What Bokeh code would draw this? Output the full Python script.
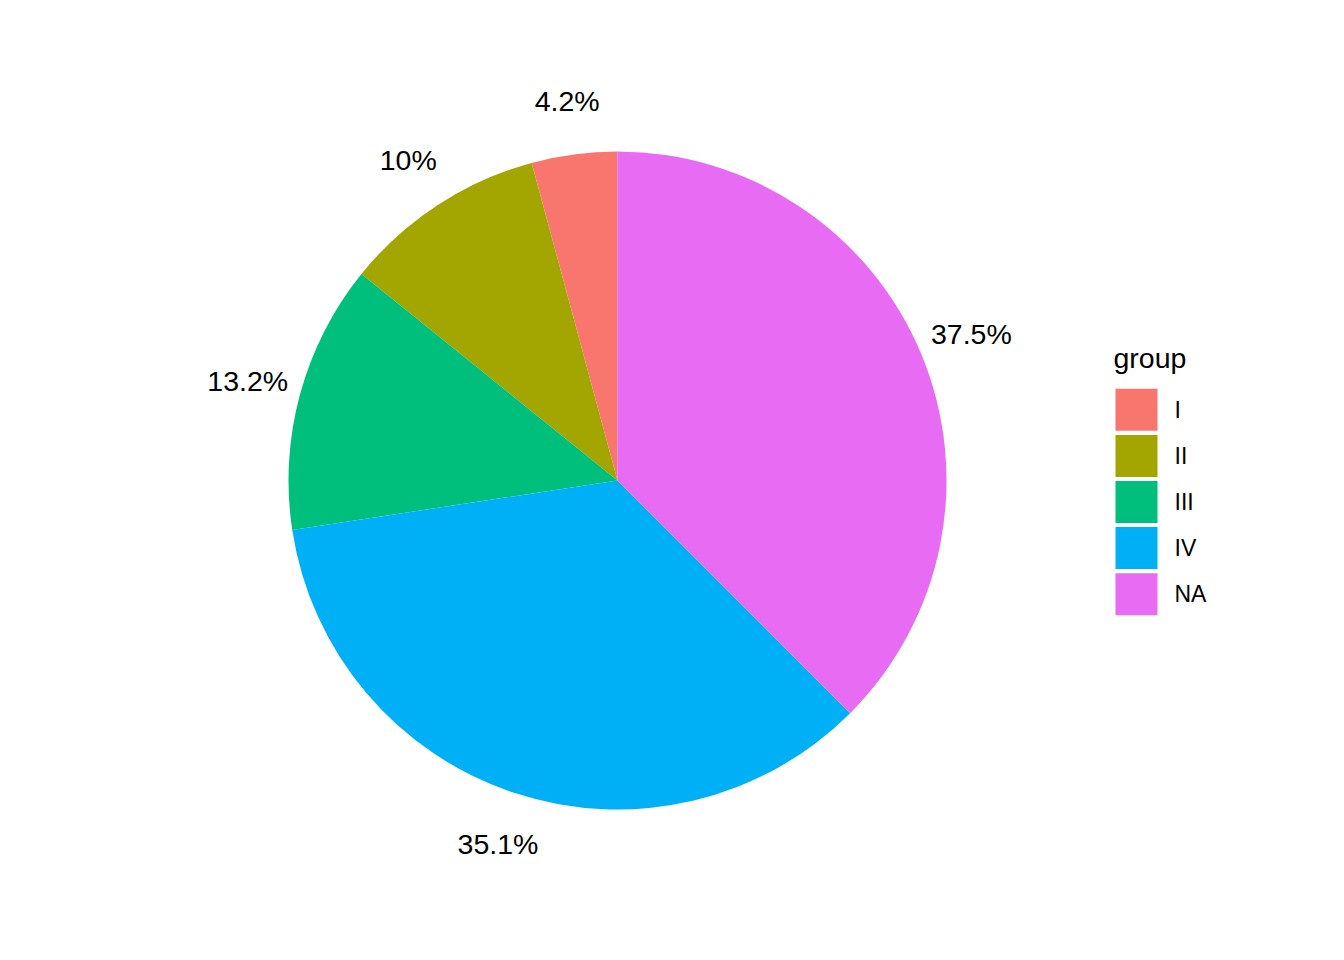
import math
from bokeh.plotting import figure
from bokeh.models import Range1d, ColumnDataSource
from bokeh.core.properties import value
from bokeh.embed import file_html
from bokeh.resources import INLINE

# ---- data ----
groups = ["I", "II", "III", "IV", "NA"]
percents = [4.2, 10.0, 13.2, 35.1, 37.5]
labels = ["4.2%", "10%", "13.2%", "35.1%", "37.5%"]
colors = ["#F8766D", "#A3A500", "#00BF7D", "#00B0F6", "#E76BF3"]
legend_title = "group"

FONT = "Liberation Sans"

# layout (reference pixel coordinates, y measured upward from bottom)
W, H = 1344, 960
cx, cy = 617, H - 480
R = 329
label_r = 383

p = figure(width=W - 16, height=H - 16, output_backend="svg", toolbar_location=None,
           x_range=Range1d(0, W - 16), y_range=Range1d(16, H),
           min_border=0, min_border_left=0, min_border_right=0,
           min_border_top=0, min_border_bottom=0)
p.axis.visible = False
p.grid.visible = False
p.outline_line_color = None
p.background_fill_color = "white"
p.border_fill_color = "white"

total = sum(percents)
starts, ends, lx, ly = [], [], [], []
cum = 0.0
for v in percents:
    a0 = math.pi / 2 + 2 * math.pi * cum / total
    a1 = math.pi / 2 + 2 * math.pi * (cum + v) / total
    starts.append(a0)
    ends.append(a1)
    mid = (a0 + a1) / 2
    lx.append(cx + label_r * math.cos(mid))
    ly.append(cy + label_r * math.sin(mid))
    cum += v

src = ColumnDataSource(dict(start=starts, end=ends, color=colors, group=groups,
                            lx=lx, ly=ly, label=labels))

p.wedge(x=cx, y=cy, radius=R, start_angle="start", end_angle="end",
        direction="anticlock", fill_color="color", line_color=None, source=src)

p.text(x="lx", y="ly", text="label", source=src, text_align="center",
       text_baseline="middle", text_font=value(FONT), text_font_size="28.5px",
       text_color="black")

# ---- legend ----
key_x = 1136
key_y0 = 409.3
key_step = 46.1
key_size = 42
ky = [H - (key_y0 + key_step * i) for i in range(len(groups))]
leg = ColumnDataSource(dict(x=[key_x] * len(groups), y=ky, color=colors, group=groups,
                            tx=[1174] * len(groups)))
p.rect(x="x", y="y", width=key_size, height=key_size, fill_color="color",
       line_color=None, source=leg)
p.text(x="tx", y="y", text="group", source=leg, text_align="left",
       text_baseline="middle", text_font=value(FONT), text_font_size="23px",
       text_color="black")
p.text(x=[1113], y=[H - 357], text=[legend_title], text_align="left",
       text_baseline="alphabetic", text_font=value(FONT), text_font_size="28.5px",
       text_color="black")

open("out.html", "w").write(file_html(p, INLINE))
